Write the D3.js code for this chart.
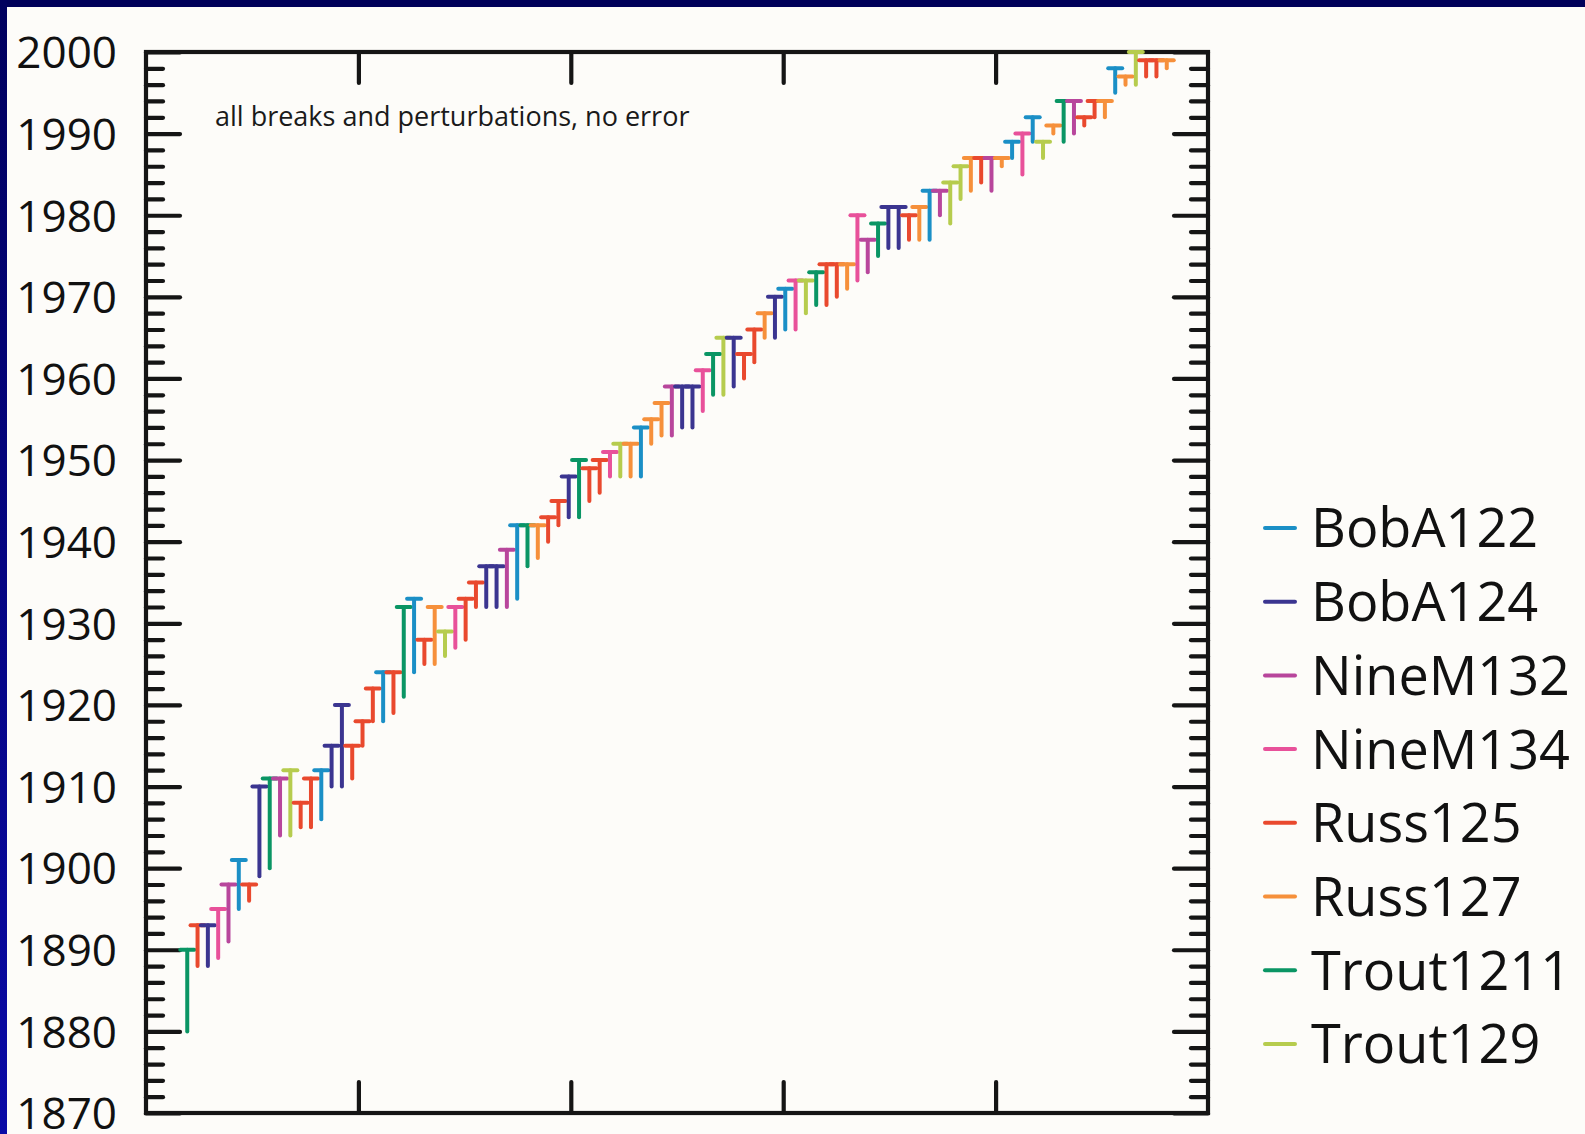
<!DOCTYPE html>
<html><head><meta charset="utf-8">
<script src="https://cdn.jsdelivr.net/npm/d3@7"></script>
<style>html,body{margin:0;padding:0;background:#fdfcf9;} svg{display:block;}</style>
</head><body><svg id="c" width="1585" height="1134"></svg>
<script>
// ---------- data ----------
const seriesNames = ["BobA122","BobA124","NineM132","NineM134","Russ125","Russ127","Trout1211","Trout129"];
const seriesColors = ["#1b8fc6","#3b3590","#b8469c","#e8519a","#e9492e","#f6903b","#0a9564","#b6cc4e"];

const segSeries = [
 "Trout1211","Russ125","BobA124","NineM134","NineM132","BobA122","Russ125","BobA124","Trout1211","NineM132",
 "Trout129","Russ125","Russ125","BobA122","BobA124","BobA124","Russ125","Russ125","Russ125","BobA122",
 "Russ125","Trout1211","BobA122","Russ125","Russ127","Trout129","NineM134","Russ125","Russ125","BobA124",
 "BobA124","NineM132","BobA122","Trout1211","Russ127","Russ125","Russ125","BobA124","Trout1211","Russ125",
 "Russ125","NineM134","Trout129","Russ127","BobA122","Russ127","Russ127","NineM132","BobA124","BobA124",
 "NineM134","Trout1211","Trout129","BobA124","Russ125","Russ125","Russ127","BobA124","BobA122","NineM134",
 "Trout129","Trout1211","Russ125","Russ125","Russ127","NineM134","NineM132","Trout1211","BobA124","BobA124",
 "Russ125","Russ127","BobA122","NineM132","Trout129","Trout129","Russ127","Russ125","NineM132","Russ127",
 "BobA122","NineM134","BobA122","Trout129","Russ127","Trout1211","NineM132","Russ125","Russ125","Russ127",
 "BobA122","Russ127","Trout129","Russ125","Russ125","Russ127"];
const segStart = [
 1880,1888,1888,1889,1891,1895,1896,1899,1900,1904,
 1904,1905,1905,1906,1910,1910,1911,1915,1918,1918,
 1919,1921,1924,1925,1925,1926,1927,1928,1932,1932,
 1932,1932,1933,1937,1938,1940,1942,1943,1943,1945,
 1946,1948,1948,1948,1948,1952,1953,1953,1954,1954,
 1956,1958,1958,1959,1960,1962,1965,1965,1966,1966,
 1968,1969,1969,1970,1971,1972,1973,1975,1976,1976,
 1977,1977,1977,1980,1979,1982,1983,1984,1983,1986,
 1987,1985,1989,1987,1990,1989,1990,1991,1992,1992,
 1995,1996,1996,1997,1997,1998];
const segEnd = [
 1890,1893,1893,1895,1898,1901,1898,1910,1911,1911,
 1912,1908,1911,1912,1915,1920,1915,1918,1922,1924,
 1924,1932,1933,1928,1932,1929,1932,1933,1935,1937,
 1937,1939,1942,1942,1942,1943,1945,1948,1950,1949,
 1950,1951,1952,1952,1954,1955,1957,1959,1959,1959,
 1961,1963,1965,1965,1963,1966,1968,1970,1971,1972,
 1972,1973,1974,1974,1974,1980,1977,1979,1981,1981,
 1980,1981,1983,1983,1984,1986,1987,1987,1987,1987,
 1989,1990,1992,1989,1991,1994,1994,1992,1994,1994,
 1998,1997,2000,1999,1999,1999];

const yTickLabels = [1870,1880,1890,1900,1910,1920,1930,1940,1950,1960,1970,1980,1990,2000];
const annotation = "all breaks and perturbations, no error";

// ---------- layout ----------
const W = 1585, H = 1134;
const plot = {left:146, top:52, right:1208, bottom:1113};
const FONT = "'Open Sans', 'Noto Sans', sans-serif";
const INK = "#151515";

const svg = d3.select("#c");
const defs = svg.append("defs");
const grad = defs.append("linearGradient").attr("id","sideGrad").attr("x1",0).attr("y1",0).attr("x2",0).attr("y2",1);
grad.append("stop").attr("offset","0%").attr("stop-color","#00005e");
grad.append("stop").attr("offset","100%").attr("stop-color","#0a0aa6");

svg.append("rect").attr("width",W).attr("height",H).attr("fill","#fdfcf9");
svg.append("rect").attr("x",0).attr("y",0).attr("width",W).attr("height",7).attr("fill","#00005a");
svg.append("rect").attr("x",0).attr("y",0).attr("width",7).attr("height",H).attr("fill","url(#sideGrad)");

// scales
const segIndex = segStart.map((d,i)=>i+1);
const x = d3.scaleLinear().domain([-3,100]).range([plot.left, plot.right]);
const y = d3.scaleLinear().domain([1870,2000]).range([plot.bottom, plot.top]);
const color = d3.scaleOrdinal().domain(seriesNames).range(seriesColors);

const yMajor = yTickLabels;
const yMinor = d3.range(1870,2001,2).filter(v => v % 10 !== 0);
const xMajor = d3.range(1,5).map(k => x.domain()[0] + k*(x.domain()[1]-x.domain()[0])/5);

function styleAxis(g){
  g.select(".domain").remove();
  g.selectAll(".tick line").attr("stroke",INK).attr("stroke-width",4.2).attr("stroke-linecap","round");
  g.selectAll(".tick text").remove();
}

// left axis ticks (inward)
svg.append("g").attr("transform",`translate(${plot.left},0)`)
  .call(d3.axisRight(y).tickValues(yMajor).tickSize(34).tickFormat("")).call(styleAxis);
svg.append("g").attr("transform",`translate(${plot.left},0)`)
  .call(d3.axisRight(y).tickValues(yMinor).tickSize(17).tickFormat("")).call(styleAxis);
// right axis ticks (inward)
svg.append("g").attr("transform",`translate(${plot.right},0)`)
  .call(d3.axisLeft(y).tickValues(yMajor).tickSize(34).tickFormat("")).call(styleAxis);
svg.append("g").attr("transform",`translate(${plot.right},0)`)
  .call(d3.axisLeft(y).tickValues(yMinor).tickSize(17).tickFormat("")).call(styleAxis);
// top & bottom ticks (inward)
svg.append("g").attr("transform",`translate(0,${plot.top})`)
  .call(d3.axisBottom(x).tickValues(xMajor).tickSize(31).tickFormat("")).call(styleAxis);
svg.append("g").attr("transform",`translate(0,${plot.bottom})`)
  .call(d3.axisTop(x).tickValues(xMajor).tickSize(31).tickFormat("")).call(styleAxis);

// y labels
const lab = svg.append("g").attr("transform",`translate(${plot.left},0)`)
  .call(d3.axisLeft(y).tickValues(yTickLabels).tickSize(0).tickPadding(29).tickFormat(d3.format("d")));
lab.select(".domain").remove();
lab.selectAll(".tick text").attr("font-family",FONT).attr("font-size",44).attr("fill","#111").attr("dy","0.36em");

// frame
svg.append("rect").attr("x",plot.left).attr("y",plot.top)
  .attr("width",plot.right-plot.left).attr("height",plot.bottom-plot.top)
  .attr("fill","none").attr("stroke",INK).attr("stroke-width",4.2);

// annotation
svg.append("text").attr("x",215).attr("y",126).attr("font-family",FONT).attr("font-size",27)
  .attr("fill","#1a1a1a").text(annotation);

// segments
const capHalf = 7;
const segs = svg.append("g");
segIndex.forEach((idx,i)=>{
  const c = color(segSeries[i]);
  const cx = x(idx);
  segs.append("line").attr("x1",cx).attr("x2",cx).attr("y1",y(segStart[i])).attr("y2",y(segEnd[i]))
    .attr("stroke",c).attr("stroke-width",4).attr("stroke-linecap","round");
  segs.append("line").attr("x1",cx-capHalf).attr("x2",cx+capHalf).attr("y1",y(segEnd[i])).attr("y2",y(segEnd[i]))
    .attr("stroke",c).attr("stroke-width",4).attr("stroke-linecap","round");
});

// legend
const leg = svg.append("g");
seriesNames.forEach((n,k)=>{
  const ly = 528 + k*73.7;
  leg.append("line").attr("x1",1265).attr("x2",1295).attr("y1",ly).attr("y2",ly)
    .attr("stroke",seriesColors[k]).attr("stroke-width",4).attr("stroke-linecap","round");
  leg.append("text").attr("x",1311).attr("y",ly).attr("dy","0.36em")
    .attr("font-family",FONT).attr("font-size",54).attr("fill","#111").text(n);
});
</script></body></html>
